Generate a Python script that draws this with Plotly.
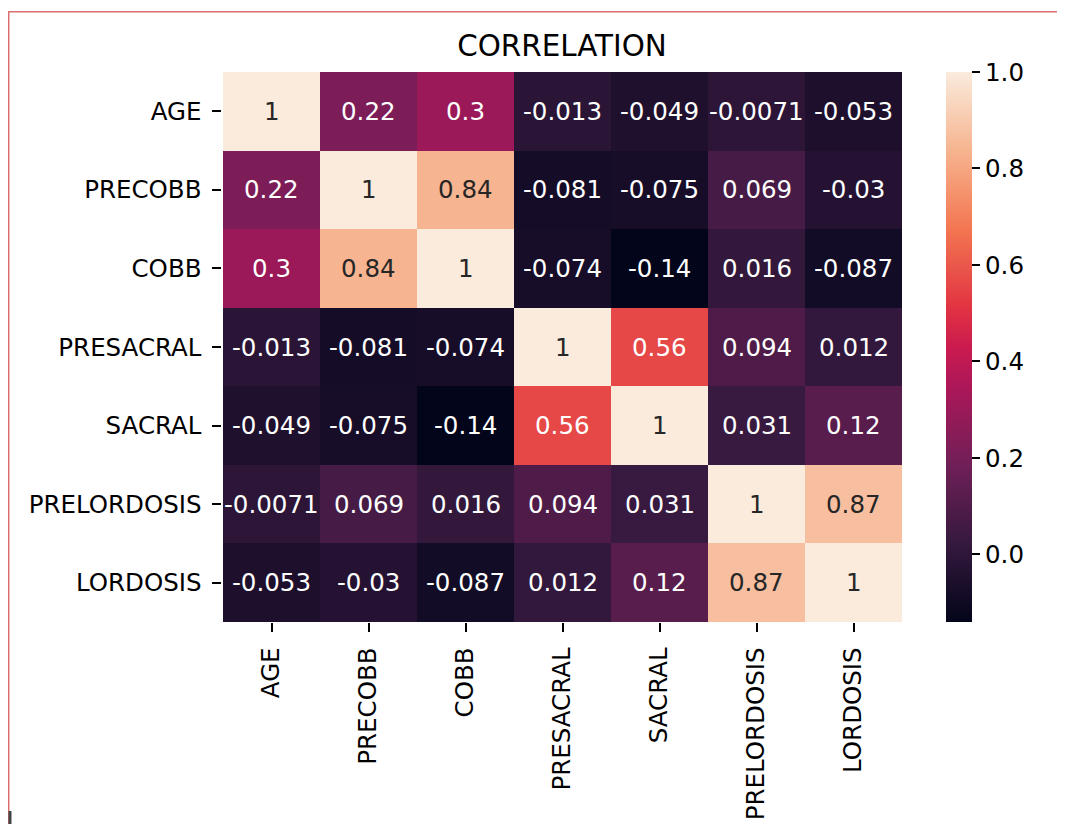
import plotly.graph_objects as go

labels = ["AGE", "PRECOBB", "COBB", "PRESACRAL", "SACRAL", "PRELORDOSIS", "LORDOSIS"]
corr = [
    [1.0, 0.22, 0.3, -0.013, -0.049, -0.0071, -0.053],
    [0.22, 1.0, 0.84, -0.081, -0.075, 0.069, -0.03],
    [0.3, 0.84, 1.0, -0.074, -0.14, 0.016, -0.087],
    [-0.013, -0.081, -0.074, 1.0, 0.56, 0.094, 0.012],
    [-0.049, -0.075, -0.14, 0.56, 1.0, 0.031, 0.12],
    [-0.0071, 0.069, 0.016, 0.094, 0.031, 1.0, 0.87],
    [-0.053, -0.03, -0.087, 0.012, 0.12, 0.87, 1.0],
]
cbar_ticks = [0.0, 0.2, 0.4, 0.6, 0.8, 1.0]
title_text = "CORRELATION"

rocket = [
    [0.0, "#03051a"], [0.143, "#35193e"], [0.286, "#701f57"], [0.429, "#ad1759"],
    [0.5, "#cb1b4f"], [0.571, "#e13342"], [0.714, "#f37651"], [0.857, "#f6b48f"],
    [1.0, "#faebdd"],
]

# page body has an 8px margin: work in window pixels and subtract it
OFF = 8
W, H = 1065 - OFF, 832 - 2 * OFF
L, R, T, B = 222 - OFF, 902 - OFF, 72 - OFF, 622 - OFF
FONT = "DejaVu Sans"
FS = 24.5

zmin = min(min(r) for r in corr)
zmax = 1.0

fig = go.Figure()
fig.add_trace(go.Heatmap(
    z=corr, x=labels, y=labels, colorscale=rocket, zmin=zmin, zmax=zmax,
    xgap=0, ygap=0, hoverinfo="skip",
    colorbar=dict(
        x=(946 - OFF - L) / (R - L), xanchor="left", xref="paper",
        y=0, yanchor="bottom", len=1, lenmode="fraction", thickness=26,
        xpad=0, ypad=0,
        outlinewidth=0, tickvals=cbar_ticks, tickformat=".1f",
        ticks="outside", ticklen=8.6, tickwidth=2, tickcolor="black",
        tickfont=dict(family=FONT, size=FS, color="black"),
    ),
))

annotations = []
for i, row in enumerate(corr):
    for j, v in enumerate(row):
        norm = (v - zmin) / (zmax - zmin)
        color = "#262626" if norm > 0.75 else "white"
        annotations.append(dict(
            x=labels[j], y=labels[i], text="{:.2g}".format(v), showarrow=False,
            font=dict(family=FONT, size=FS, color=color), xref="x", yref="y",
        ))

px = lambda x: (x - OFF - L) / (R - L)
py = lambda y: (B - (y - OFF)) / (B - T)
shapes = [
    dict(type="line", xref="paper", yref="paper", x0=px(8.75), x1=px(8.75), y0=py(11), y1=py(833),
         line=dict(color="#d9706f", width=1.5)),
    dict(type="line", xref="paper", yref="paper", x0=px(8), x1=px(1066), y0=py(11.75), y1=py(11.75),
         line=dict(color="#d9706f", width=1.5)),
    dict(type="line", xref="paper", yref="paper", x0=px(10), x1=px(10), y0=py(811), y1=py(833),
         line=dict(color="#444444", width=3)),
]

fig.update_layout(
    width=W, height=H, autosize=False,
    margin=dict(l=L, r=W - R, t=T, b=H - B, pad=0),
    paper_bgcolor="white", plot_bgcolor="white",
    title=dict(text=title_text, x=(L + R) / 2 / W, xanchor="center", xref="container",
               y=1 - (45.5 - OFF) / H, yanchor="middle", yref="container",
               font=dict(family=FONT, size=29.4, color="black")),
    xaxis=dict(tickangle=-90, ticks="outside", ticklen=8.6, tickwidth=2, tickcolor="black",
               tickfont=dict(family=FONT, size=FS, color="black"), showgrid=False,
               zeroline=False, showline=False, ticklabelstandoff=6, automargin=False),
    yaxis=dict(autorange="reversed", ticks="outside", ticklen=8.6, tickwidth=2, tickcolor="black",
               tickfont=dict(family=FONT, size=FS, color="black"), showgrid=False,
               zeroline=False, showline=False, ticklabelstandoff=6, automargin=False),
    annotations=annotations, shapes=shapes,
)

fig.write_html("out.html")
